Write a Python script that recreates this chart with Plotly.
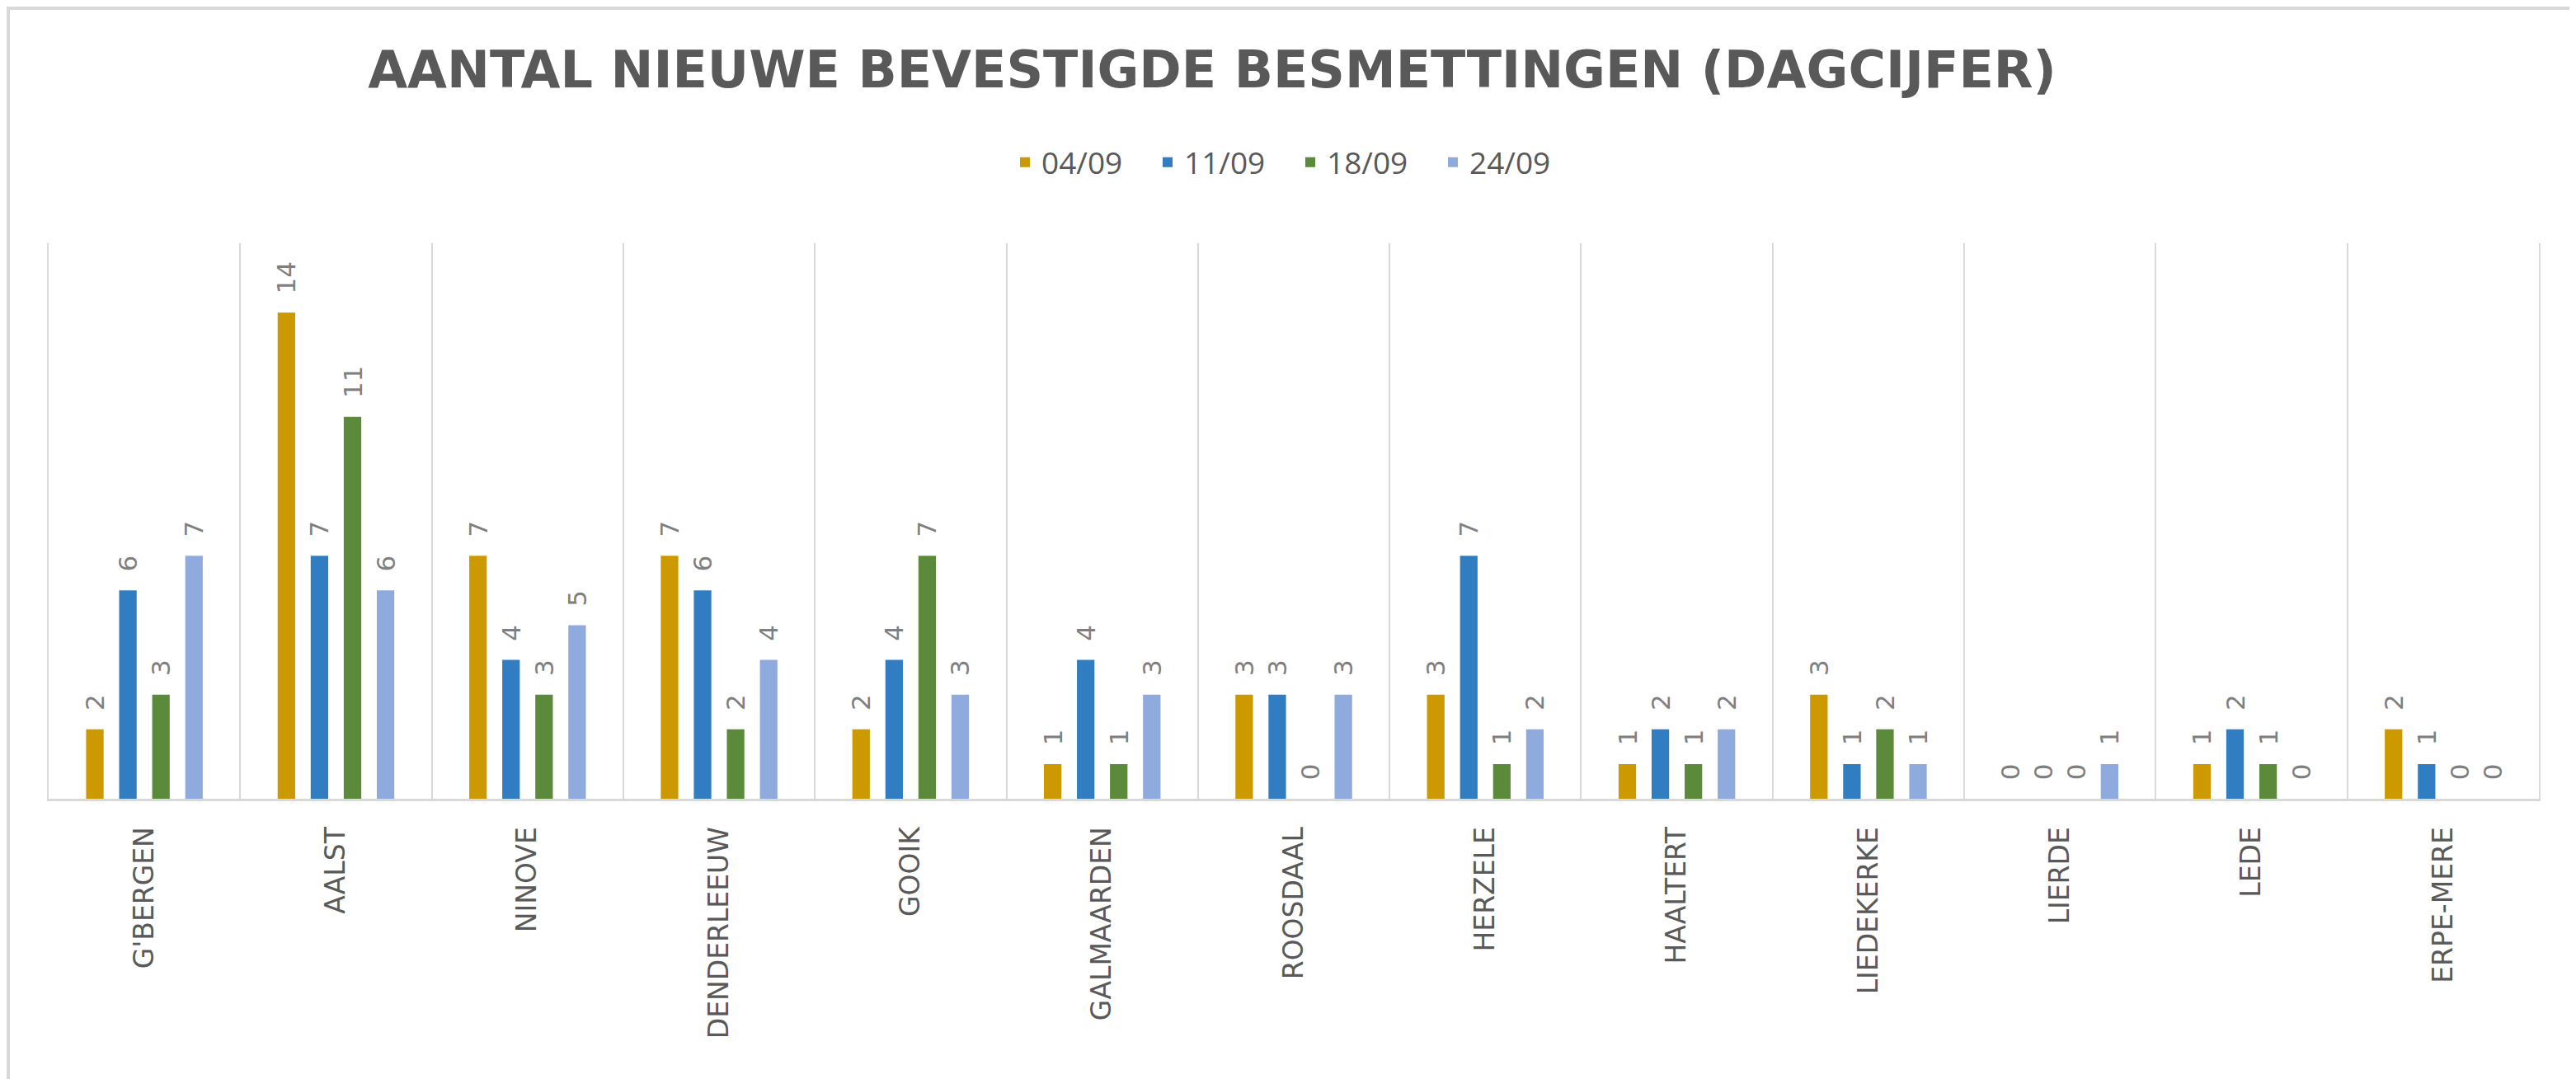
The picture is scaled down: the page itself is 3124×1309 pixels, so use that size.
import plotly.graph_objects as go

# gemeenten en dagcijfers per datum
gemeenten = ["G'BERGEN", "AALST", "NINOVE", "DENDERLEEUW", "GOOIK", "GALMAARDEN", "ROOSDAAL",
             "HERZELE", "HAALTERT", "LIEDEKERKE", "LIERDE", "LEDE", "ERPE-MERE"]
datums = ["04/09", "11/09", "18/09", "24/09"]
d_0409 = [2, 14, 7, 7, 2, 1, 3, 3, 1, 3, 0, 1, 2]
d_1109 = [6, 7, 4, 6, 4, 4, 3, 7, 2, 1, 0, 2, 1]
d_1809 = [3, 11, 3, 2, 7, 1, 0, 1, 1, 2, 0, 1, 0]
d_2409 = [7, 6, 5, 4, 3, 3, 3, 2, 2, 1, 1, 0, 0]
kleuren = ["#CC9900", "#317DC1", "#5A8A3A", "#8FAADC"]

W, H = 3124, 1309
ml, mr, mt, mb = 51, 53, 287, 348
pw, ph = W - ml - mr, H - mt - mb

fig = go.Figure()
for naam, waarden, kleur in zip(datums, [d_0409, d_1109, d_1809, d_2409], kleuren):
    fig.add_trace(go.Bar(
        x=gemeenten, y=waarden, name=naam, marker_color=kleur, marker_line_width=0,
        texttemplate="\u00a0\u00a0%{y}", textposition="outside", textangle=-90,
        constraintext="none", cliponaxis=False,
        textfont=dict(family="DejaVu Sans", size=31, color="#7F7F7F"),
    ))

fig.update_layout(
    width=W, height=H,
    margin=dict(l=ml, r=mr, t=mt, b=mb),
    paper_bgcolor="white", plot_bgcolor="white",
    barmode="group", bargap=0.31, bargroupgap=0.47,
    title=dict(text="AANTAL NIEUWE BEVESTIGDE BESMETTINGEN (DAGCIJFER)",
               x=1462 / W, xanchor="center", xref="container",
               y=0.942, yanchor="middle", yref="container",
               font=dict(family="DejaVu Sans", size=62, color="#595959", weight="bold")),
    legend=dict(orientation="h", x=0.5, xanchor="center", y=1.145, yanchor="middle",
                entrywidth=128, entrywidthmode="pixels",
                font=dict(family="Open Sans", size=37, color="#595959")),
    showlegend=True,
)

fig.update_xaxes(type="category", tickson="boundaries", showgrid=True, gridcolor="#D9D9D9",
                 gridwidth=2, showline=True, linecolor="#D9D9D9", linewidth=3, ticks="",
                 tickangle=-90, ticklabelstandoff=18,
                 tickfont=dict(family="DejaVu Sans", size=33, color="#595959"))
fig.update_yaxes(range=[0, 16], showgrid=False, zeroline=False, showticklabels=False,
                 showline=True, mirror=True, linecolor="#D9D9D9", linewidth=2, ticks="")

# rand rond de hele grafiek
fig.add_shape(type="rect", xref="paper", yref="paper",
              x0=-(ml - 2) / pw, x1=1 + (mr - 2) / pw, y0=-(mb - 2) / ph, y1=1 + (mt - 2) / ph,
              line=dict(color="#D9D9D9", width=4), layer="below")

fig.write_html("out.html")
